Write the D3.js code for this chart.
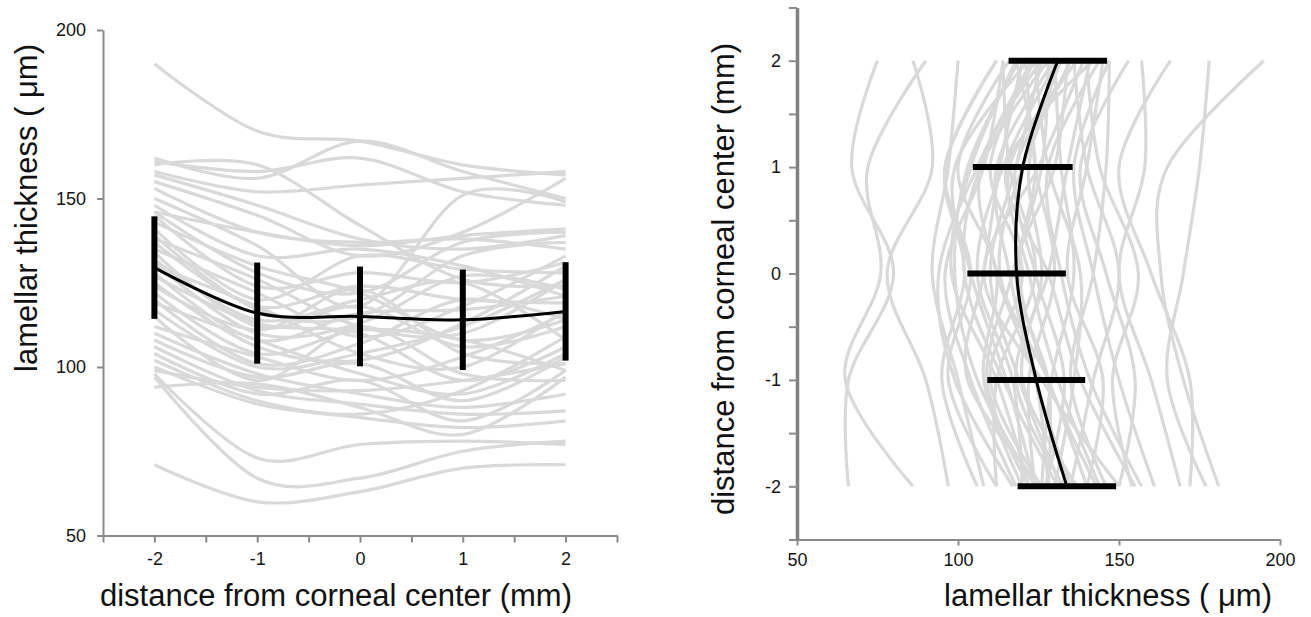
<!DOCTYPE html>
<html>
<head>
<meta charset="utf-8">
<script src="https://cdn.jsdelivr.net/npm/d3@7"></script>
<style>
  html, body { margin: 0; padding: 0; background: #fff; }
  svg { display: block; }
  .tick text { font-family: "Liberation Sans", Arial, sans-serif; font-size: 18px; fill: #151515; }
  .title { font-family: "Liberation Sans", Arial, sans-serif; font-size: 31px; fill: #111; }
</style>
</head>
<body>
<svg id="chart" width="1311" height="617"></svg>
<script>
// ---------- Left panel data: thickness at distances -2..2 mm ----------
const leftDistances = [-2, -1, 0, 1, 2];
const leftCurves = [
  [190, 170, 167, 160, 157],
  [162, 156, 167, 158, 150],
  [161, 158, 162, 152, 148],
  [160, 160, 142, 126, 124],
  [158, 152, 154, 156, 158],
  [157, 148, 138, 135, 139],
  [155, 145, 133, 140, 156],
  [153, 140, 137, 138, 135],
  [150, 136, 118, 151, 149],
  [148, 133, 135, 130, 121],
  [146, 128, 122, 137, 140],
  [145, 124, 128, 125, 131],
  [143, 130, 122, 108, 114],
  [141, 120, 133, 129, 128],
  [139, 117, 115, 133, 137],
  [138, 126, 112, 110, 126],
  [137, 118, 124, 120, 119],
  [135, 122, 109, 118, 133],
  [134, 112, 118, 106, 112],
  [132, 114, 120, 125, 108],
  [131, 110, 113, 127, 123],
  [130, 118, 104, 100, 117],
  [128, 108, 116, 117, 121],
  [127, 113, 110, 96, 106],
  [125, 106, 102, 113, 130],
  [124, 111, 123, 104, 101],
  [122, 104, 111, 108, 99],
  [120, 101, 107, 120, 114],
  [119, 108, 98, 92, 104],
  [117, 100, 104, 112, 126],
  [115, 96, 112, 98, 96],
  [112, 103, 96, 103, 116],
  [110, 98, 92, 88, 92],
  [108, 97, 101, 90, 103],
  [106, 93, 89, 86, 87],
  [104, 92, 96, 84, 99],
  [102, 90, 86, 93, 109],
  [100, 89, 85, 82, 84],
  [99, 94, 93, 96, 101],
  [98, 73, 77, 78, 77],
  [97, 67, 67, 75, 78],
  [94, 95, 88, 80, 97],
  [71, 60, 63, 70, 71],
  [146, 140, 136, 139, 141]
];
const leftMean = [129.5, 116, 115, 114, 116.5];
const leftSD = [15.2, 15, 14.8, 14.9, 14.6];
const leftXTicks = [-2.5, -2, -1.5, -1, -0.5, 0, 0.5, 1, 1.5, 2, 2.5];
const leftXLabels = [-2, -1, 0, 1, 2];
const leftYTicks = [50, 100, 150, 200];

// ---------- Right panel data: thickness (x) at distances -2..2 mm (y) ----------
const rightDistances = [-2, -1, 0, 1, 2];
const rightCurves = [
  [66, 66, 80, 67, 75],
  [86, 65, 76, 72, 90],
  [97, 90, 78, 92, 86],
  [108, 100, 92, 97, 100],
  [112, 97, 104, 96, 112],
  [118, 104, 96, 108, 114],
  [120, 108, 112, 100, 116],
  [122, 112, 98, 104, 118],
  [126, 103, 108, 113, 120],
  [124, 115, 104, 99, 122],
  [126, 110, 120, 110, 124],
  [132, 119, 110, 118, 126],
  [131, 114, 102, 107, 128],
  [135, 124, 116, 112, 130],
  [137, 120, 126, 122, 132],
  [140, 128, 113, 120, 135],
  [144, 131, 122, 116, 137],
  [150, 126, 108, 125, 139],
  [155, 138, 128, 115, 142],
  [157, 141, 132, 128, 144],
  [161, 150, 142, 136, 147],
  [169, 160, 150, 158, 157],
  [172, 172, 160, 150, 166],
  [177, 165, 170, 175, 178],
  [181, 170, 163, 165, 195],
  [124, 122, 130, 124, 121],
  [128, 128, 118, 130, 134],
  [127, 133, 124, 118, 137],
  [133, 118, 128, 134, 141],
  [122, 109, 117, 126, 128],
  [120, 117, 106, 114, 131],
  [124, 106, 99, 103, 119],
  [130, 136, 138, 128, 124],
  [140, 145, 134, 140, 145],
  [146, 135, 142, 146, 147],
  [112, 112, 124, 116, 114],
  [117, 99, 94, 106, 123],
  [128, 124, 112, 107, 126],
  [135, 142, 150, 140, 136],
  [126, 129, 136, 132, 130],
  [150, 155, 146, 138, 153],
  [106, 95, 102, 96, 112],
  [143, 128, 119, 124, 118],
  [154, 148, 156, 144, 140]
];
const rightMean = [133.8, 124.3, 118.2, 120.1, 131];
const rightSD = [15.3, 15.2, 15.3, 15.5, 15.3];
const rightYTicks = [-2.5, -2, -1.5, -1, -0.5, 0, 0.5, 1, 1.5, 2, 2.5];
const rightYLabels = [-2, -1, 0, 1, 2];
const rightXTicks = [50, 100, 150, 200];

// ---------- Drawing ----------
const svg = d3.select("#chart");
const GRAY = "#d9d9d9";
const AXIS = "#8a8a8a";
const curve = d3.curveCardinal.tension(0);

// Left scales
const lx = d3.scaleLinear().domain([-2.5, 2.5]).range([103, 617]);
const ly = d3.scaleLinear().domain([50, 200]).range([535.5, 30]);

const gL = svg.append("g");

const lxAxis = d3.axisBottom(lx).tickValues(leftXTicks).tickSize(7).tickSizeOuter(0)
  .tickFormat(d => leftXLabels.includes(d) ? String(d) : "");
const gLx = gL.append("g").attr("transform", `translate(0,${ly(50)})`).call(lxAxis);
gLx.selectAll("path, line").attr("stroke", AXIS).attr("stroke-width", 2);
gLx.selectAll("text").attr("dy", "0.71em").attr("y", 17);

const lyAxis = d3.axisLeft(ly).tickValues(leftYTicks).tickSize(6).tickSizeOuter(0);
const gLy = gL.append("g").attr("transform", `translate(${lx(-2.5)},0)`).call(lyAxis);
gLy.selectAll("path, line").attr("stroke", AXIS).attr("stroke-width", 2);
gLy.selectAll("text").attr("x", -17);

const lineL = d3.line().x((d, i) => lx(leftDistances[i])).y(d => ly(d)).curve(curve);
gL.append("g").selectAll("path").data(leftCurves).join("path")
  .attr("d", lineL).attr("fill", "none").attr("stroke", GRAY).attr("stroke-width", 3.2);

gL.append("path").datum(leftMean).attr("d", lineL)
  .attr("fill", "none").attr("stroke", "#000").attr("stroke-width", 3);

gL.append("g").selectAll("line").data(leftMean).join("line")
  .attr("x1", (d, i) => lx(leftDistances[i])).attr("x2", (d, i) => lx(leftDistances[i]))
  .attr("y1", (d, i) => ly(d - leftSD[i])).attr("y2", (d, i) => ly(d + leftSD[i]))
  .attr("stroke", "#000").attr("stroke-width", 6);

gL.append("text").attr("class", "title").attr("text-anchor", "middle")
  .attr("x", 336).attr("y", 606).text("distance from corneal center (mm)");
gL.append("text").attr("class", "title").attr("text-anchor", "middle")
  .attr("transform", "translate(37,208) rotate(-90)").text("lamellar thickness ( μm)");

// Right scales
const rx = d3.scaleLinear().domain([50, 200]).range([797, 1280]);
const ry = d3.scaleLinear().domain([-2.5, 2.5]).range([539.5, 7.5]);

const gR = svg.append("g");

const rxAxis = d3.axisBottom(rx).tickValues(rightXTicks).tickSize(6).tickSizeOuter(0);
const gRx = gR.append("g").attr("transform", `translate(0,${ry(-2.5)})`).call(rxAxis);
gRx.selectAll("path, line").attr("stroke", AXIS).attr("stroke-width", 2);
gRx.selectAll("text").attr("dy", "0.71em").attr("y", 14);

const ryAxis = d3.axisLeft(ry).tickValues(rightYTicks).tickSize(8).tickSizeOuter(0)
  .tickFormat(d => rightYLabels.includes(d) ? String(d) : "");
const gRy = gR.append("g").attr("transform", `translate(${rx(50)},0)`).call(ryAxis);
gRy.selectAll("path").attr("stroke", "#808080").attr("stroke-width", 3.5);
gRy.selectAll("line").attr("stroke", AXIS).attr("stroke-width", 2);
gRy.selectAll("text").attr("x", -16);

const lineR = d3.line().x(d => rx(d)).y((d, i) => ry(rightDistances[i])).curve(curve);
gR.append("g").selectAll("path").data(rightCurves).join("path")
  .attr("d", lineR).attr("fill", "none").attr("stroke", GRAY).attr("stroke-width", 3.2);

gR.append("path").datum(rightMean).attr("d", lineR)
  .attr("fill", "none").attr("stroke", "#000").attr("stroke-width", 3);

gR.append("g").selectAll("line").data(rightMean).join("line")
  .attr("y1", (d, i) => ry(rightDistances[i])).attr("y2", (d, i) => ry(rightDistances[i]))
  .attr("x1", (d, i) => rx(d - rightSD[i])).attr("x2", (d, i) => rx(d + rightSD[i]))
  .attr("stroke", "#000").attr("stroke-width", 6);

gR.append("text").attr("class", "title").attr("text-anchor", "middle")
  .attr("x", 1108).attr("y", 606).text("lamellar thickness ( μm)");
gR.append("text").attr("class", "title").attr("text-anchor", "middle")
  .attr("transform", "translate(734,279) rotate(-90)").text("distance from corneal center (mm)");

svg.selectAll(".domain").attr("fill", "none");
</script>
</body>
</html>
